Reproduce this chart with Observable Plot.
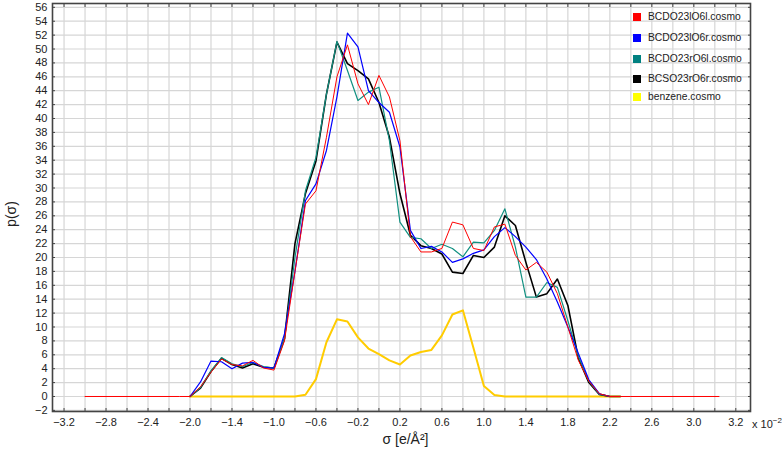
<!DOCTYPE html>
<html><head><meta charset="utf-8">
<script src="https://cdn.jsdelivr.net/npm/d3@7"></script>
<script src="https://cdn.jsdelivr.net/npm/@observablehq/plot@0.6"></script>
<style>
body{margin:0;background:#fff;}
#wrap{position:relative;width:782px;height:454px;font-family:"Liberation Sans",Arial,sans-serif;color:#222;}
.ov{position:absolute;white-space:nowrap;}
.leg{position:absolute;left:633px;font-size:10.3px;line-height:12px;height:12px;white-space:nowrap;}
.leg .sw{position:absolute;left:0;top:2px;width:8px;height:8px;}
.leg .tx{position:absolute;left:15px;top:0;}
</style></head><body><div id="wrap"></div>
<script>
// sigma grid (x 10^-2 e/Å²)
const sigma = [-2.0,-1.9,-1.8,-1.7,-1.6,-1.5,-1.4,-1.3,-1.2,-1.1,-1.0,
  -0.9,-0.8,-0.7,-0.6,-0.5,-0.4,-0.3,-0.2,-0.1,0.0,
  0.1,0.2,0.3,0.4,0.5,0.6,0.7,0.8,0.9,1.0,1.1,1.2,1.3,1.4,1.5,1.6,1.7,1.8,1.9,2.0,2.1];
const redPadSigma = [-3.0,-2.1,2.2,3.04];
const redPadValues = [0,0,0,0];

const red = [0,1.4,3.5,5.4,4.6,4.4,5.2,4.1,3.8,8.0,18,
  27.7,29.6,37.3,46.0,50.6,45.0,42.0,46.2,43.1,36.8,
  23.0,20.8,20.8,21.3,25.1,24.7,21.3,21.0,24.4,24.8,20.3,18.2,19.3,17.9,14.8,10.0,5.2,2.2,0.4,0,0];
const blue = [0,2.1,5.1,5.0,4.0,4.8,4.9,4.2,4.1,9.0,18,
  28.2,30.6,35.4,43.1,52.3,50.3,44.0,42.3,40.9,35.9,
  23.9,21.3,21.6,20.8,19.3,19.8,20.6,21.1,23.0,24.3,23.0,21.5,19.7,16.9,13.6,10.0,6.2,2.4,0.4,0,0];
const teal = [0,1.3,3.7,5.6,4.7,4.3,4.9,4.3,4.1,8.3,20,
  29.6,34.4,43.5,51.1,46.9,42.6,43.8,44.5,36.8,25.1,
  22.9,22.7,21.3,21.9,21.3,20.1,22.2,22.1,23.9,27.0,21.5,14.3,14.3,16.4,15.7,10.9,5.8,2.2,0.3,0,0];
const black = [0,1.2,3.6,5.5,4.6,4.1,4.7,4.2,4.1,8.3,22,
  29.2,33.9,43.5,51.0,47.9,46.9,45.7,42.3,37.3,29.2,
  23.2,21.7,21.3,20.5,17.9,17.7,20.3,20.0,21.5,26.0,24.6,19.3,14.3,14.8,16.9,13.1,5.5,2.0,0.3,0,0];
const benzene = [0,0,0,0,0,0,0,0,0,0,0,
  0.25,2.5,7.8,11.1,10.8,8.5,6.9,6.1,5.2,4.6,
  5.9,6.4,6.7,8.8,11.8,12.4,7.0,1.5,0.2,0,0,0,0,0,0,0,0,0,0,0,0];

const seriesNames = ["BCDO23lO6l.cosmo","BCDO23lO6r.cosmo","BCDO23rO6l.cosmo","BCSO23rO6r.cosmo","benzene.cosmo"];
const lineColors = ["#ff0000","#0000ff","#119080","#000000","#ffcc00"];
const legendColors = ["#ff0000","#0000ff","#008080","#000000","#ffff00"];

const xTickPos = [-3.2,-2.8,-2.4,-2.0,-1.6,-1.2,-0.8,-0.4,0.0,0.4,0.8,1.2,1.6,2.0,2.4,2.8,3.2];
const xTickLabels = ["−3.2","−2.8","−2.4","−2.0","−1.4","−1.0","−0.6","−0.2","0.2","0.6","1.0","1.4","1.8","2.2","2.6","3.0","3.2"];
const xGrid = [-3.2,-3.0,-2.8,-2.6,-2.4,-2.2,-2.0,-1.8,-1.6,-1.4,-1.2,-1.0,-0.8,-0.6,-0.4,-0.2,0,
  0.2,0.4,0.6,0.8,1.0,1.2,1.4,1.6,1.8,2.0,2.2,2.4,2.6,2.8,3.0,3.2];
const yTicks = [-2,0,2,4,6,8,10,12,14,16,18,20,22,24,26,28,30,32,34,36,38,40,42,44,46,48,50,52,54,56];

const mk = (xs, vs) => xs.map((x, i) => ({x, y: vs[i]}));
const redData = mk(redPadSigma.slice(0,2), redPadValues.slice(0,2))
  .concat(mk(sigma, red))
  .concat(mk(redPadSigma.slice(2), redPadValues.slice(2)));

const labelMap = new Map(xTickPos.map((p, i) => [Math.round(p * 10), xTickLabels[i]]));

const chart = Plot.plot({
  width: 782, height: 454,
  marginTop: 3, marginLeft: 52, marginRight: 32, marginBottom: 43,
  style: {fontFamily: "'Liberation Sans', Arial, sans-serif", fontSize: "11px", color: "#222", background: "#fff"},
  x: {domain: [-3.31, 3.34]},
  y: {domain: [-2.16, 56.55]},
  marks: [
    Plot.gridX(xGrid, {stroke: "#d6d6d6", strokeOpacity: 1, strokeWidth: 1.2}),
    Plot.gridY(yTicks, {stroke: "#d6d6d6", strokeOpacity: 1, strokeWidth: 1.2}),
    Plot.line(mk(sigma, benzene), {x: "x", y: "y", stroke: lineColors[4], strokeWidth: 2}),
    Plot.line(mk(sigma, black), {x: "x", y: "y", stroke: lineColors[3], strokeWidth: 1.6}),
    Plot.line(mk(sigma, teal), {x: "x", y: "y", stroke: lineColors[2], strokeWidth: 1.2}),
    Plot.line(mk(sigma, blue), {x: "x", y: "y", stroke: lineColors[1], strokeWidth: 1.2}),
    Plot.line(redData, {x: "x", y: "y", stroke: lineColors[0], strokeWidth: 1}),
    Plot.frame({stroke: "#444", strokeWidth: 1.6}),
    Plot.axisX(xTickPos, {anchor: "bottom", label: null, tickSize: 0, tickPadding: 7, tickFormat: d => labelMap.get(Math.round(d * 10))}),
    Plot.axisX(xGrid, {anchor: "bottom", label: null, tickSize: -3, tickFormat: () => "", stroke: "#444"}),
    Plot.axisX(xGrid, {anchor: "top", label: null, tickSize: -3, tickFormat: () => "", stroke: "#444"}),
    Plot.axisY(yTicks, {anchor: "left", label: null, tickSize: 0, tickPadding: 5, tickFormat: d => d < 0 ? "−" + Math.abs(d) : String(d)}),
    Plot.axisY(yTicks, {anchor: "left", label: null, tickSize: -3, tickFormat: () => "", stroke: "#444"}),
    Plot.axisY(yTicks, {anchor: "right", label: null, tickSize: -3, tickFormat: () => "", stroke: "#444"}),
    Plot.text(["σ [e/Å²]"], {frameAnchor: "bottom", dx: 4, dy: 32, fontSize: 14, fill: "#222"})
  ]
});

const wrap = document.getElementById("wrap");
wrap.appendChild(chart);

// legend (inside plot, top right)
const rowTops = [11, 32, 53, 73, 91];
seriesNames.forEach((name, i) => {
  const d = document.createElement("div");
  d.className = "leg";
  d.style.top = rowTops[i] + "px";
  d.innerHTML = `<span class="sw" style="background:${legendColors[i]}"></span><span class="tx">${name}</span>`;
  wrap.appendChild(d);
});

// y label
const yl = document.createElement("div");
yl.className = "ov";
yl.style.cssText = "left:-4px;top:206px;font-size:14px;transform:rotate(-90deg);transform-origin:center;width:30px;text-align:center;";
yl.textContent = "p(σ)";
wrap.appendChild(yl);

// exponent note
const ex = document.createElement("div");
ex.className = "ov";
ex.style.cssText = "left:752px;top:416px;font-size:11px;";
ex.innerHTML = "x 10<sup style='font-size:8px'>−2</sup>";
wrap.appendChild(ex);
</script></body></html>
